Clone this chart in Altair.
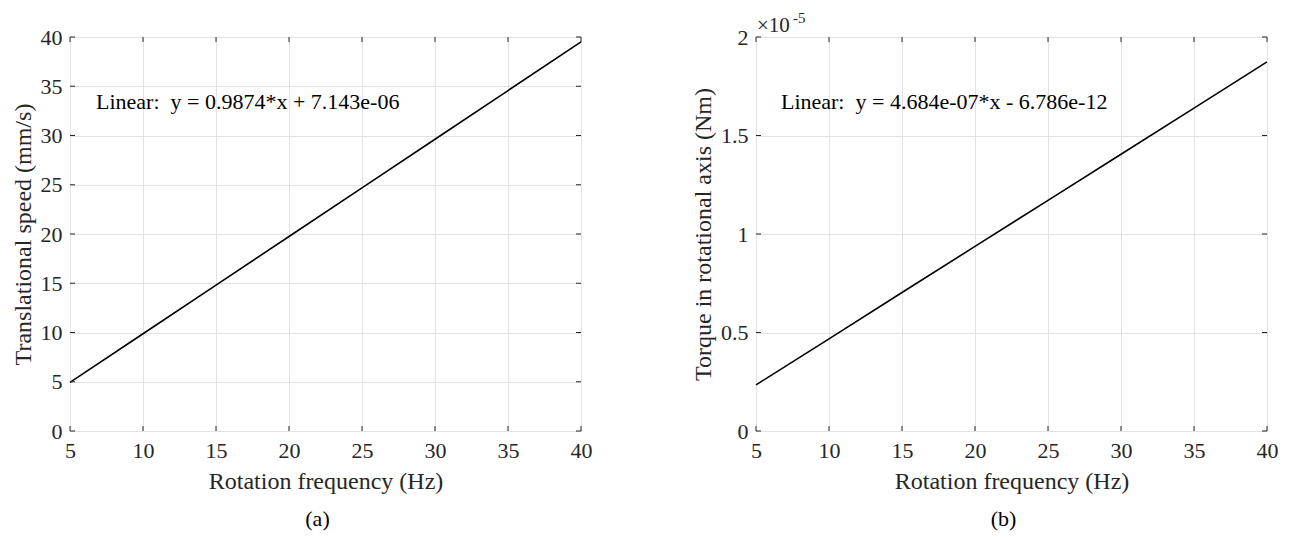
import altair as alt
import pandas as pd

# ---- data ----
freq = [5, 10, 15, 20, 25, 30, 35, 40]
speed = [4.94, 9.87, 14.81, 19.75, 24.69, 29.62, 34.56, 39.50]
torque = [2.34e-6, 4.68e-6, 7.03e-6, 9.37e-6, 11.71e-6, 14.05e-6, 16.39e-6, 18.74e-6]

x_ticks = [5, 10, 15, 20, 25, 30, 35, 40]
speed_ticks = [0, 5, 10, 15, 20, 25, 30, 35, 40]
torque_ticks = [0, 0.5e-5, 1.0e-5, 1.5e-5, 2.0e-5]

NB = "\u00a0"
fit_a = "Linear:" + NB + " y = 0.9874*x + 7.143e-06"
fit_b = "Linear:" + NB + " y = 4.684e-07*x - 6.786e-12"
fit_a_pos = (6.78, 33.4)
fit_b_pos = (6.71, 1.67e-5)

FONT = "Liberation Serif"
TXT = "#262626"
W, H = 511, 394
TICK = 5

df_a = pd.DataFrame({"f": freq, "v": speed})
df_b = pd.DataFrame({"f": freq, "v": torque})
xt = pd.DataFrame({"t": x_ticks})


def panel(df, yticks, ydomain, ytitle, label_expr, fit_text, fit_pos, caption, extra=None):
    xs = alt.Scale(domain=[5, 40], nice=False, zero=False)
    ys = alt.Scale(domain=ydomain, nice=False, zero=False)
    xaxis = alt.Axis(values=x_ticks, title="Rotation frequency (Hz)", grid=True,
                     gridColor="#e3e3e3", gridWidth=1, ticks=False, domain=False,
                     labelFontSize=22, labelPadding=9, titleFontSize=24,
                     titlePadding=8, titleFontWeight="normal", labelColor=TXT,
                     titleColor=TXT, labelFont=FONT, titleFont=FONT,
                     labelFlush=False)
    yaxis = alt.Axis(values=yticks, title=ytitle, grid=True, gridColor="#e3e3e3",
                     gridWidth=1, ticks=False, domain=False, labelFontSize=22,
                     labelPadding=8, titleFontSize=24, titlePadding=5,
                     titleFontWeight="normal", labelColor=TXT, titleColor=TXT,
                     labelFont=FONT, titleFont=FONT, labelExpr=label_expr,
                     labelFlush=False)
    line = alt.Chart(df).mark_line(color="black", strokeWidth=1.6).encode(
        x=alt.X("f:Q", scale=xs, axis=xaxis),
        y=alt.Y("v:Q", scale=ys, axis=yaxis),
    )
    yt = pd.DataFrame({"t": yticks})
    tick_style = dict(color=TXT, strokeWidth=1)
    xb = alt.Chart(xt).mark_rule(**tick_style).encode(
        x=alt.X("t:Q", scale=xs), y=alt.value(H), y2=alt.value(H - TICK))
    xtop = alt.Chart(xt).mark_rule(**tick_style).encode(
        x=alt.X("t:Q", scale=xs), y=alt.value(0), y2=alt.value(TICK))
    yl = alt.Chart(yt).mark_rule(**tick_style).encode(
        y=alt.Y("t:Q", scale=ys), x=alt.value(0), x2=alt.value(TICK))
    yr = alt.Chart(yt).mark_rule(**tick_style).encode(
        y=alt.Y("t:Q", scale=ys), x=alt.value(W), x2=alt.value(W - TICK))
    fit_df = pd.DataFrame({"x": [fit_pos[0]], "y": [fit_pos[1]], "txt": [fit_text]})
    fit = alt.Chart(fit_df).mark_text(align="left", baseline="middle", font=FONT,
                                      fontSize=22, color="black").encode(
        x=alt.X("x:Q", scale=xs), y=alt.Y("y:Q", scale=ys), text="txt:N")
    layers = [line, xb, xtop, yl, yr, fit]
    if extra is not None:
        layers += extra
    return alt.layer(*layers).properties(
        width=W, height=H,
        title=alt.TitleParams(text=caption, orient="bottom", font=FONT, fontSize=22,
                              fontWeight="normal", color="black", offset=16, dx=-8),
    )


exp_df = pd.DataFrame({"a": ["\u00d710"], "b": ["-5"]})
exp_main = alt.Chart(exp_df).mark_text(align="left", baseline="middle", font=FONT,
                                       fontSize=21, color=TXT).encode(
    x=alt.value(1), y=alt.value(-11), text="a:N")
exp_sup = alt.Chart(exp_df).mark_text(align="left", baseline="middle", font=FONT,
                                      fontSize=15, color=TXT).encode(
    x=alt.value(37), y=alt.value(-19), text="b:N")

left = panel(df_a, speed_ticks, [0, 40], "Translational speed (mm/s)",
             "datum.label", fit_a, fit_a_pos, "(a)")
right = panel(df_b, torque_ticks, [0, 2e-5], "Torque in rotational axis (Nm)",
              "format(datum.value * 1e5, '')", fit_b, fit_b_pos, "(b)",
              extra=[exp_main, exp_sup])

chart = alt.hconcat(left, right, spacing=175, bounds="flush").properties(
    padding={"left": 10, "top": 10, "right": 5, "bottom": 5}
).configure_view(stroke=TXT, strokeWidth=1).configure(background="white")

chart.save("out.html", embed_options={"renderer": "svg", "actions": False})
